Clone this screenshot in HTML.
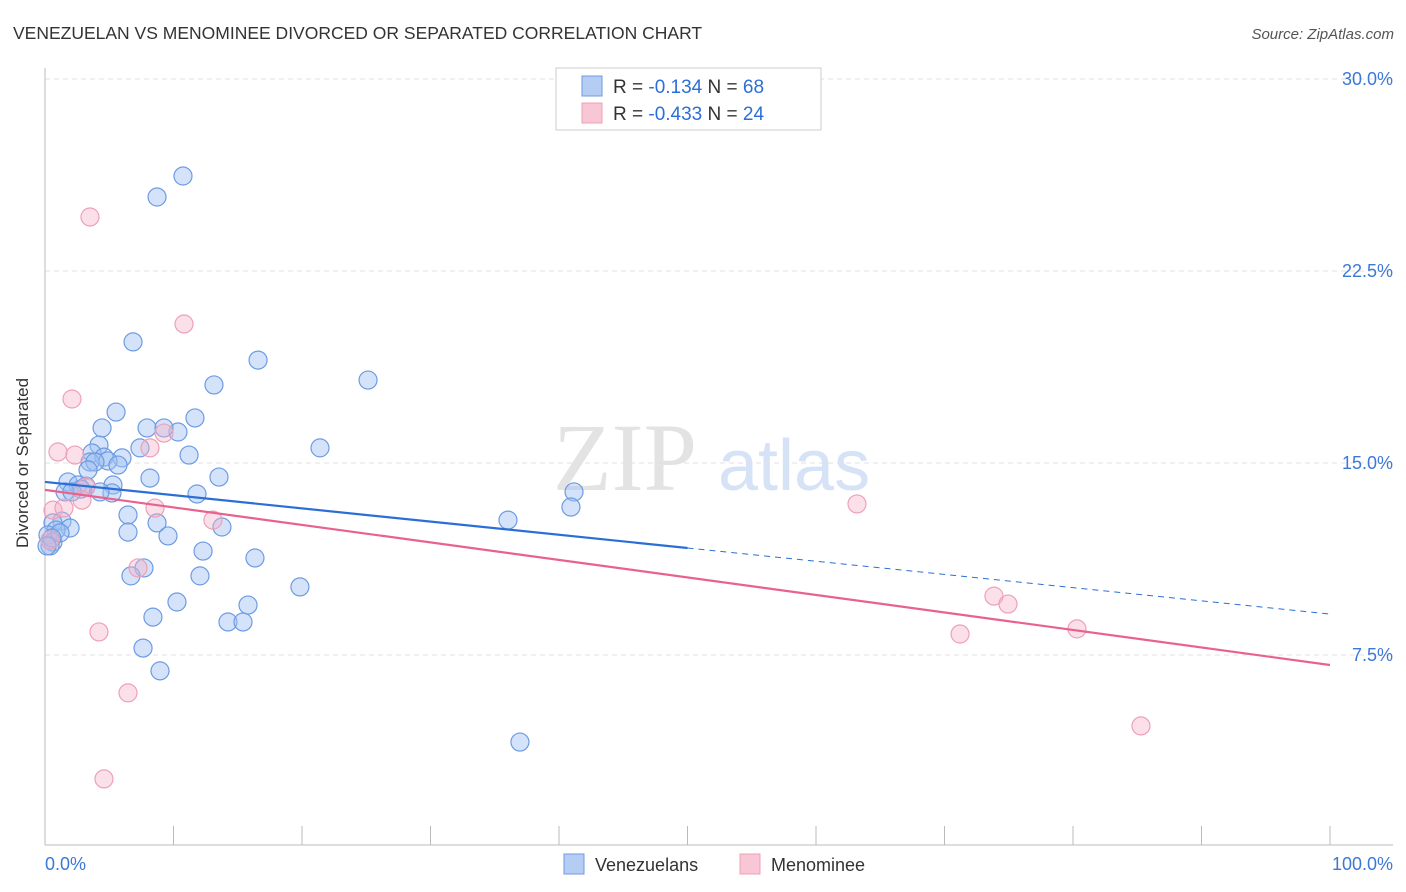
<!DOCTYPE html>
<html><head><meta charset="utf-8"><style>
body{margin:0;background:#fff;font-family:"Liberation Sans",sans-serif}
svg{display:block}
</style></head><body>
<svg id="chart" width="1406" height="892">
<text x="13" y="39" font-size="17.5" fill="#333">VENEZUELAN VS MENOMINEE DIVORCED OR SEPARATED CORRELATION CHART</text>
<text x="1394" y="39" font-size="15" fill="#555" text-anchor="end" font-style="italic">Source: ZipAtlas.com</text>
<g>
<text x="553" y="490" font-size="96" font-family="Liberation Serif,serif" fill="#e3e3e3">ZIP</text>
<text x="718" y="490" font-size="72" fill="#d6e3f6">atlas</text>
</g>
<g id="grid"></g>
<g id="axes"></g>
<g id="marks"></g>
<text x="20" y="455" font-size="17" fill="#333" text-anchor="middle" transform="rotate(-90 28 455)">Divorced or Separated</text>
<g>
<rect x="556" y="68" width="265" height="62" fill="#fff" stroke="#ccc"/>
<rect x="582" y="76" width="20" height="20" fill="#b6cdf3" stroke="#6d9be3"/>
<rect x="582" y="103" width="20" height="20" fill="#f8c6d5" stroke="#eea0b8"/>
<text x="613" y="93" font-size="19" fill="#333">R = <tspan fill="#2b6fd6"> -0.134</tspan>   N = <tspan fill="#2b6fd6">68</tspan></text>
<text x="613" y="120" font-size="19" fill="#333">R = <tspan fill="#2b6fd6">-0.433</tspan>   N = <tspan fill="#2b6fd6">24</tspan></text>
</g>
<g>
<rect x="564" y="854" width="20" height="20" fill="#b6cdf3" stroke="#6d9be3"/>
<text x="595" y="871" font-size="18" fill="#333">Venezuelans</text>
<rect x="740" y="854" width="20" height="20" fill="#f8c6d5" stroke="#eea0b8"/>
<text x="771" y="871" font-size="18" fill="#333">Menominee</text>
</g>
</svg>
<script>
const blueX=[10.74,8.72,6.85,16.58,25.14,13.15,5.53,11.67,4.44,7.94,10.35,9.26,4.20,7.39,21.40,11.21,3.66,4.59,5.99,4.90,3.50,3.89,5.68,8.17,13.54,1.79,2.57,3.19,2.80,5.29,1.56,2.10,5.21,11.83,41.17,40.93,6.46,36.03,8.72,1.32,0.62,1.95,0.86,0.23,6.46,13.77,9.57,0.62,0.39,12.30,16.34,7.70,6.69,12.06,19.84,10.27,15.80,8.40,14.24,15.41,7.63,8.95,36.96,1.17,0.54,4.28,3.35,0.16];
const blueY=[26.21,25.39,19.73,19.02,18.24,18.05,16.99,16.76,16.37,16.37,16.21,16.37,15.70,15.59,15.59,15.31,15.39,15.23,15.20,15.08,15.04,15.04,14.92,14.41,14.45,14.26,14.14,14.10,13.98,14.14,13.87,13.87,13.83,13.79,13.87,13.28,12.97,12.77,12.66,12.73,12.66,12.46,12.38,12.19,12.30,12.50,12.15,11.91,11.76,11.56,11.29,10.90,10.59,10.59,10.16,9.57,9.45,8.98,8.79,8.79,7.77,6.88,4.10,12.27,12.07,13.87,14.73,11.76];
const pinkX=[3.50,10.82,2.10,9.26,8.17,1.01,2.33,3.19,2.88,0.62,8.56,1.48,13.07,63.19,7.24,73.85,74.94,4.20,71.21,80.31,6.46,85.29,4.59,0.39];
const pinkY=[24.61,20.43,17.50,16.17,15.59,15.43,15.31,14.06,13.55,13.16,13.24,13.24,12.77,13.40,10.90,9.80,9.49,8.40,8.32,8.52,6.02,4.73,2.66,11.99];
const blueTrend=[14.26,9.10];
const pinkTrend=[13.95,7.11];
const yTicks=[7.5,15,22.5,30];
const yTickLabels=["7.5%","15.0%","22.5%","30.0%"];
const xTicks=[0,10,20,30,40,50,60,70,80,90,100];
const NS="http://www.w3.org/2000/svg";
const sx=v=>45+v*12.85, sy=v=>847-v*25.6;
function mk(tag,attrs,parent){const e=document.createElementNS(NS,tag);for(const k in attrs)e.setAttribute(k,attrs[k]);parent.appendChild(e);return e;}
const grid=document.getElementById('grid'),axes=document.getElementById('axes'),marks=document.getElementById('marks');
yTicks.forEach((t,i)=>{
 const l=mk('line',{x1:45,x2:1393,y1:sy(t),y2:sy(t),stroke:'#e2e2e2','stroke-dasharray':'5,4'},grid);
 
 
 const tx=mk('text',{x:1393,y:sy(t)+6,'font-size':18,fill:'#3b78d8','text-anchor':'end'},axes);
 tx.textContent=yTickLabels[i];
 
 
});
const ya=mk('line',{x1:45,x2:45,y1:68,y2:845,stroke:'#bbb'},axes);


const xa=mk('line',{x1:45,x2:1393,y1:845,y2:845,stroke:'#bbb'},axes);


xTicks.forEach(t=>{
 const l=mk('line',{x1:sx(t),x2:sx(t),y1:826,y2:845,stroke:'#bbb'},axes);
 
 
});
const x0=mk('text',{x:45,y:870,'font-size':18,fill:'#3b78d8'},axes);x0.textContent='0.0%';


const x1=mk('text',{x:1393,y:870,'font-size':18,fill:'#3b78d8','text-anchor':'end'},axes);x1.textContent='100.0%';


function pts(X,Y,fill,stroke,name){X.forEach((x,i)=>{
 const c=mk('circle',{cx:sx(x),cy:sy(Y[i]),r:9,fill:fill,stroke:stroke,'stroke-width':1.2},marks);
 
 
});}
pts(blueX,blueY,'rgba(160,192,242,0.45)','#6d9be3','venezuelan-point');
pts(pinkX,pinkY,'rgba(246,178,200,0.4)','#eea0b8','menominee-point');
const lerp=(tr,x)=>tr[0]+(tr[1]-tr[0])*x/100;
const b1=mk('line',{x1:sx(0),y1:sy(lerp(blueTrend,0)),x2:sx(50),y2:sy(lerp(blueTrend,50)),stroke:'#2b6fd6','stroke-width':2.2},marks);


const b2=mk('line',{x1:sx(50),y1:sy(lerp(blueTrend,50)),x2:sx(100),y2:sy(lerp(blueTrend,100)),stroke:'#2b6fd6','stroke-width':1,'stroke-dasharray':'6,5'},marks);


const p1=mk('line',{x1:sx(0),y1:sy(lerp(pinkTrend,0)),x2:sx(100),y2:sy(lerp(pinkTrend,100)),stroke:'#e8628f','stroke-width':2.2},marks);


</script>
</body></html>
